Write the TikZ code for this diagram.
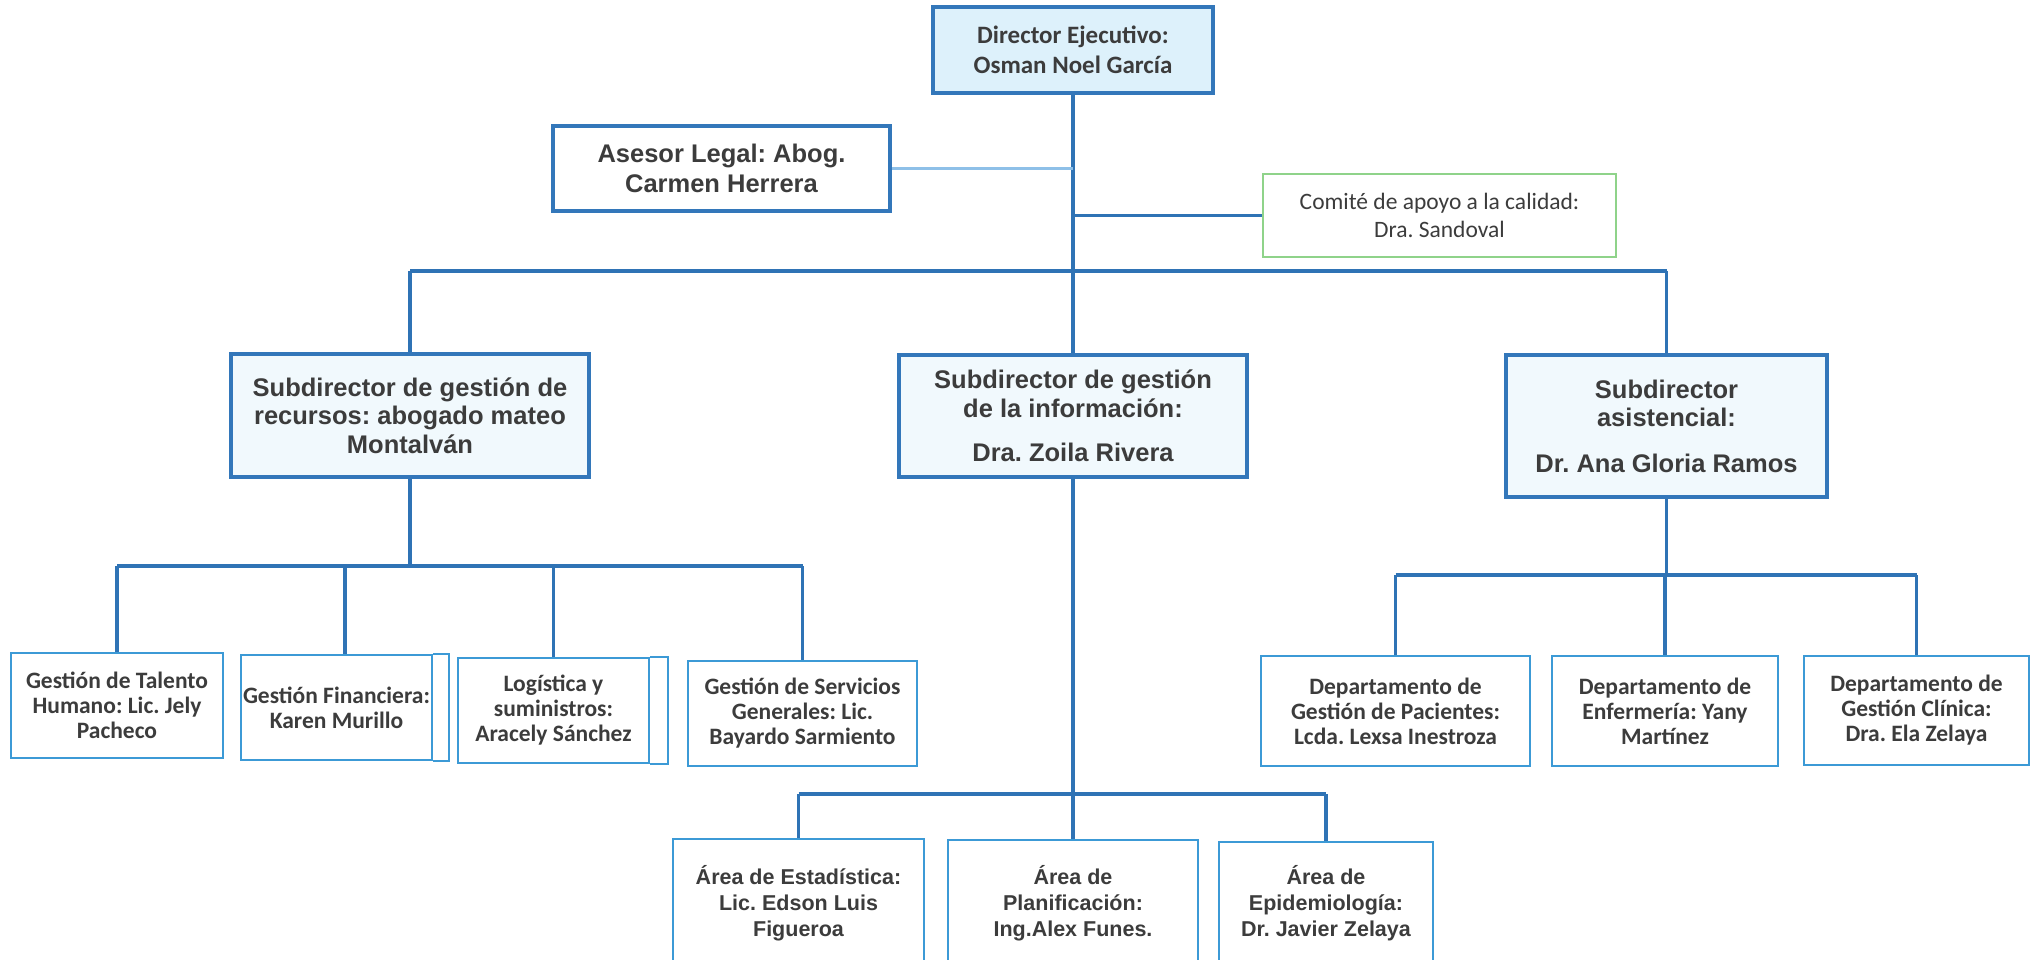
\documentclass[tikz,border=0pt]{standalone}
\usepackage{fontspec}
\setmainfont{Liberation Sans}
\newfontfamily\calib{Carlito}
\newfontfamily\arialf{Liberation Sans}
\definecolor{lineblue}{HTML}{2F73B5}
\definecolor{boxblue}{HTML}{3377BA}
\definecolor{leafblue}{HTML}{3C9AD6}
\definecolor{lightlink}{HTML}{8EC0E8}
\definecolor{comgreen}{HTML}{8FD38A}
\definecolor{dirfill}{HTML}{DDF1FB}
\definecolor{subfill}{HTML}{F1F9FD}
\definecolor{txt}{HTML}{3C3C3C}
\begin{document}
\frenchspacing
\begin{tikzpicture}[x=1pt,y=-1pt,
  conn/.style={draw=lineblue,line width=3.2pt},
  aselink/.style={draw=lightlink,line width=3pt},
  basebox/.style={inner sep=0pt,align=center,text=txt},
  dirbox/.style={basebox,draw=boxblue,line width=3.6pt,fill=dirfill,
    font=\frenchspacing\calib\bfseries\fontsize{25}{30}\selectfont},
  subbox/.style={basebox,draw=boxblue,line width=3.6pt,fill=subfill,
    font=\frenchspacing\arialf\bfseries\fontsize{25.5}{28.5}\selectfont},
  asebox/.style={basebox,draw=boxblue,line width=3.6pt,fill=white,
    font=\frenchspacing\arialf\bfseries\fontsize{25.5}{30}\selectfont},
  combox/.style={basebox,draw=comgreen,line width=2pt,fill=white,
    font=\frenchspacing\calib\fontsize{23.5}{28}\selectfont},
  leafbox/.style={basebox,draw=leafblue,line width=2.6pt,fill=white,
    font=\frenchspacing\calib\bfseries\fontsize{23.5}{25}\selectfont},
  areabox/.style={basebox,draw=leafblue,line width=2.6pt,fill=white,
    font=\frenchspacing\arialf\bfseries\fontsize{21.5}{26}\selectfont},
  leafline/.style={draw=leafblue,line width=2.2pt}]
\useasboundingbox (0,0) rectangle (2040,959);
\fill[white] (0,0) rectangle (2040,959);
\begin{scope}
\clip (0,0) rectangle (2040,959);
% top level
\node[dirbox,minimum width=280pt,minimum height=86pt] (dir) at (1073,50)
  {Director Ejecutivo:\\Osman Noel García};
\node[asebox,minimum width=337pt,minimum height=85pt] (ase) at (721.5,168.5)
  {Asesor Legal: Abog.\\Carmen Herrera};
\node[combox,minimum width=353pt,minimum height=83pt] (com) at (1439.5,215.5)
  {Comité de apoyo a la calidad:\\Dra. Sandoval};
% subdirectors
\node[subbox,minimum width=358pt,minimum height=123pt] (s1) at (410,415.5)
  {Subdirector de gestión de\\recursos: abogado mateo\\Montalván};
\node[subbox,minimum width=348pt,minimum height=122pt] (s2) at (1073,416)
  {Subdirector de gestión\\de la información:\\[16pt]Dra. Zoila Rivera};
\node[subbox,minimum width=321pt,minimum height=142pt] (s3) at (1666.5,426)
  {Subdirector\\asistencial:\\[17pt]Dr. Ana Gloria Ramos};
% left leaves
\node[leafbox,minimum width=212pt,minimum height=105pt] (a) at (117,705.5)
  {Gestión de Talento\\Humano: Lic. Jely\\Pacheco};
\node[leafbox,minimum width=191pt,minimum height=105pt] (b) at (336.5,707.5)
  {Gestión Financiera:\\Karen Murillo};
\node[leafbox,minimum width=191pt,minimum height=105pt] (c) at (553.5,710.5)
  {Logística y\\suministros:\\Aracely Sánchez};
\node[leafbox,minimum width=229pt,minimum height=105pt] (d) at (802.5,713.5)
  {Gestión de Servicios\\Generales: Lic.\\Bayardo Sarmiento};
\draw[leafline] (b.north east) -- ++(16,0) |- (b.south east);
\draw[leafline] (c.north east) -- ++(18,0) |- (c.south east);
% right leaves
\node[leafbox,minimum width=269pt,minimum height=110pt] (e) at (1395.5,711)
  {Departamento de\\Gestión de Pacientes:\\Lcda. Lexsa Inestroza};
\node[leafbox,minimum width=226pt,minimum height=110pt] (f) at (1665,711)
  {Departamento de\\Enfermería: Yany\\Martínez};
\node[leafbox,minimum width=225pt,minimum height=109pt] (g) at (1916.5,710.5)
  {Departamento de\\Gestión Clínica:\\Dra. Ela Zelaya};
% middle leaves
\node[areabox,minimum width=251pt,minimum height=128pt] (h) at (798.5,903)
  {Área de Estadística:\\Lic. Edson Luis\\Figueroa};
\node[areabox,minimum width=250pt,minimum height=126pt] (i) at (1073,903)
  {Área de\\Planificación:\\Ing.Alex Funes.};
\node[areabox,minimum width=214pt,minimum height=122pt] (j) at (1326,903)
  {Área de\\Epidemiología:\\Dr. Javier Zelaya};
% connectors top
\draw[conn] (dir.south) -- (s2.north);
\draw[aselink] (ase.east) -- (ase.east -| dir.south);
\draw[conn] (com.west) -- (com.west -| dir.south);
\coordinate (bL) at (410,271);
\coordinate (bR) at (1666.5,271);
\draw[conn] (bL) -- (bR);
\draw[conn] (bL) -- (s1.north);
\draw[conn] (bR) -- (s3.north);
% left group
\coordinate (lL) at (117,566);
\coordinate (lb) at (345,566);
\coordinate (lc) at (553.5,566);
\coordinate (lR) at (802.5,566);
\draw[conn] (s1.south) -- (s1.south |- lL);
\draw[conn] (lL) -- (lR);
\draw[conn] (lL) -- (a.north);
\draw[conn] (lb) -- (lb |- b.north);
\draw[conn] (lc) -- (c.north);
\draw[conn] (lR) -- (d.north);
% right group
\coordinate (rL) at (1395.5,575);
\coordinate (rR) at (1916.5,575);
\draw[conn] (s3.south) -- (s3.south |- rL);
\draw[conn] (rL) -- (rR);
\draw[conn] (rL) -- (e.north);
\draw[conn] (rL -| f.north) -- (f.north);
\draw[conn] (rR) -- (g.north);
% middle group
\coordinate (mL) at (798.5,794);
\coordinate (mR) at (1326,794);
\draw[conn] (s2.south) -- (s2.south |- mL);
\draw[conn] (mL) -- (mR);
\draw[conn] (mL) -- (h.north);
\draw[conn] (mL -| i.north) -- (i.north);
\draw[conn] (mR) -- (j.north);
\end{scope}
\end{tikzpicture}
\end{document}
